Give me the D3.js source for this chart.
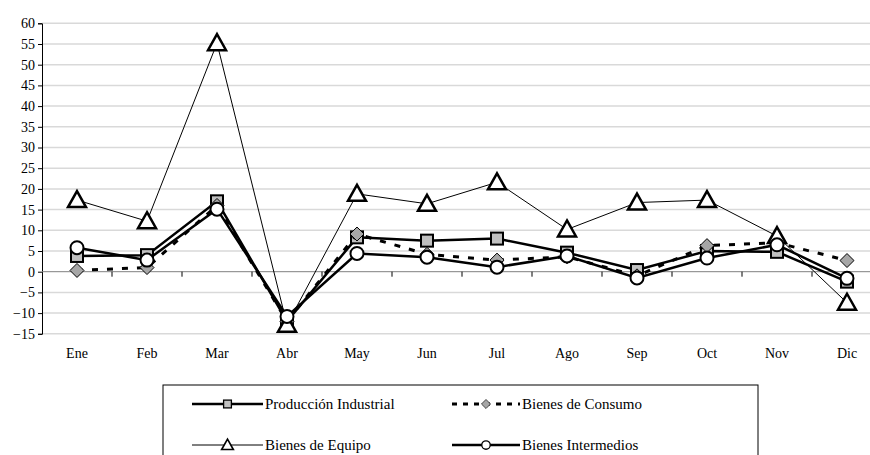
<!DOCTYPE html>
<html>
<head>
<meta charset="utf-8">
<script src="https://cdn.jsdelivr.net/npm/d3@7"></script>
<style>
body { margin: 0; background: #fff; }
</style>
</head>
<body>
<svg id="chart"></svg>
<script>
var months = ["Ene","Feb","Mar","Abr","May","Jun","Jul","Ago","Sep","Oct","Nov","Dic"];
var produccion = [3.8, 4.0, 17.0, -12.0, 8.3, 7.5, 8.0, 4.6, 0.4, 5.0, 4.8, -2.4];
var consumo    = [0.3, 1.0, 16.0, -12.0, 9.1, 4.2, 2.8, 3.6, -1.0, 6.3, 7.0, 2.7];
var equipo     = [17.3, 12.2, 55.2, -12.8, 18.8, 16.4, 21.6, 10.2, 16.7, 17.3, 8.6, -7.5];
var intermedios= [5.8, 2.8, 15.1, -10.8, 4.4, 3.5, 1.1, 3.8, -1.5, 3.3, 6.5, -1.6];
var yTicks = d3.range(-15, 61, 5);

var FONT = "'Liberation Serif', 'Times New Roman', Times, serif";
var svgWidth = 870, svgHeight = 455;
var svg = d3.select("#chart").attr("width", svgWidth).attr("height", svgHeight)
	.style("font-family", FONT);

var xScale = d3.scaleBand().domain(months).range([42, 882]);
var yScale = d3.scaleLinear().domain([-15, 60]).range([333.8, 23.3]);

// gridlines
svg.append("g").selectAll("line")
	.data(yTicks.filter(function(d){ return d !== 0; }))
	.enter().append("line")
	.attr("x1", 42).attr("x2", 882)
	.attr("y1", function(d){ return yScale(d); })
	.attr("y2", function(d){ return yScale(d); })
	.attr("stroke", "#d9d9d9").attr("stroke-width", 1.5);

// y axis
var y_axis = d3.axisLeft(yScale).tickValues(yTicks).tickSize(4).tickPadding(3);
var gy = svg.append("g").attr("transform", "translate(42,0)").call(y_axis)
	.attr("font-family", null).attr("font-size", null);
gy.select(".domain").attr("stroke", "#000");
gy.selectAll("text").style("font-family", FONT).style("font-size", "14px").attr("fill", "#000");

// x axis on zero
var gx = svg.append("g").attr("transform", "translate(0," + yScale(0) + ")");
gx.append("line").attr("x1", 42).attr("x2", 882).attr("stroke", "#808080").attr("stroke-width", 1);
gx.selectAll("line.tick")
	.data(months.slice(1))
	.enter().append("line")
	.attr("x1", function(d){ return xScale(d); })
	.attr("x2", function(d){ return xScale(d); })
	.attr("y1", 0).attr("y2", 5)
	.attr("stroke", "#000");
svg.append("g").selectAll("text")
	.data(months)
	.enter().append("text")
	.attr("x", function(d){ return xScale(d) + xScale.bandwidth() / 2; })
	.attr("y", 358)
	.attr("text-anchor", "middle")
	.style("font-family", FONT)
	.style("font-size", "14px")
	.text(function(d){ return d; });

var series = [
	{ name: "Producción Industrial", values: produccion, width: 2.5, dash: null, marker: "square" },
	{ name: "Bienes de Consumo", values: consumo, width: 3, dash: "6,9", marker: "diamond" },
	{ name: "Bienes de Equipo", values: equipo, width: 1, dash: null, marker: "triangle" },
	{ name: "Bienes Intermedios", values: intermedios, width: 2.5, dash: null, marker: "circle" }
];

function drawMarker(g, type, x, y) {
	if (type === "square") {
		g.append("rect").attr("x", x - 6).attr("y", y - 6).attr("width", 12).attr("height", 12)
			.attr("fill", "#c0c0c0").attr("stroke", "#000").attr("stroke-width", 2);
	} else if (type === "diamond") {
		g.append("path").attr("d", "M" + x + "," + (y - 7) + "L" + (x + 7) + "," + y + "L" + x + "," + (y + 7) + "L" + (x - 7) + "," + y + "Z")
			.attr("fill", "#a6a6a6").attr("stroke", "#000").attr("stroke-width", 1);
	} else if (type === "triangle") {
		g.append("path").attr("d", "M" + x + "," + (y - 9) + "L" + (x + 9) + "," + (y + 7) + "L" + (x - 9) + "," + (y + 7) + "Z")
			.attr("fill", "#fff").attr("stroke", "#000").attr("stroke-width", 2.5).attr("stroke-linejoin", "miter");
	} else {
		g.append("circle").attr("cx", x).attr("cy", y).attr("r", 6.5)
			.attr("fill", "#fff").attr("stroke", "#000").attr("stroke-width", 2);
	}
}

var line = d3.line()
	.x(function(d, i){ return xScale(months[i]) + xScale.bandwidth() / 2; })
	.y(function(d){ return yScale(d); });

series.forEach(function(s){
	var g = svg.append("g");
	g.append("path").attr("d", line(s.values))
		.attr("fill", "none").attr("stroke", "#000")
		.attr("stroke-width", s.width)
		.attr("stroke-dasharray", s.dash);
	s.values.forEach(function(v, i){
		drawMarker(g, s.marker, xScale(months[i]) + xScale.bandwidth() / 2, yScale(v));
	});
});

// legend
var legend = svg.append("g");
legend.append("rect").attr("x", 163).attr("y", 385).attr("width", 595).attr("height", 90)
	.attr("fill", "#fff").attr("stroke", "#000").attr("stroke-width", 1);
var legendPos = [
	{ x1: 192, x2: 263, y: 404 },
	{ x1: 452, x2: 520, y: 404 },
	{ x1: 192, x2: 263, y: 445 },
	{ x1: 452, x2: 520, y: 445 }
];
series.forEach(function(s, i){
	var p = legendPos[i];
	var g = legend.append("g");
	g.append("line").attr("x1", p.x1).attr("x2", p.x2).attr("y1", p.y).attr("y2", p.y)
		.attr("stroke", "#000").attr("stroke-width", s.width)
		.attr("stroke-dasharray", s.dash ? "5,6" : null);
	var mx = (p.x1 + p.x2) / 2;
	var mg = g.append("g").attr("transform", "translate(" + mx + "," + p.y + ") scale(0.65)");
	drawMarker(mg, s.marker, 0, 0);
	g.append("text").attr("x", p.x2 + 2).attr("y", p.y + 5)
		.style("font-family", FONT).style("font-size", "15px").text(s.name);
});
</script>
</body>
</html>
